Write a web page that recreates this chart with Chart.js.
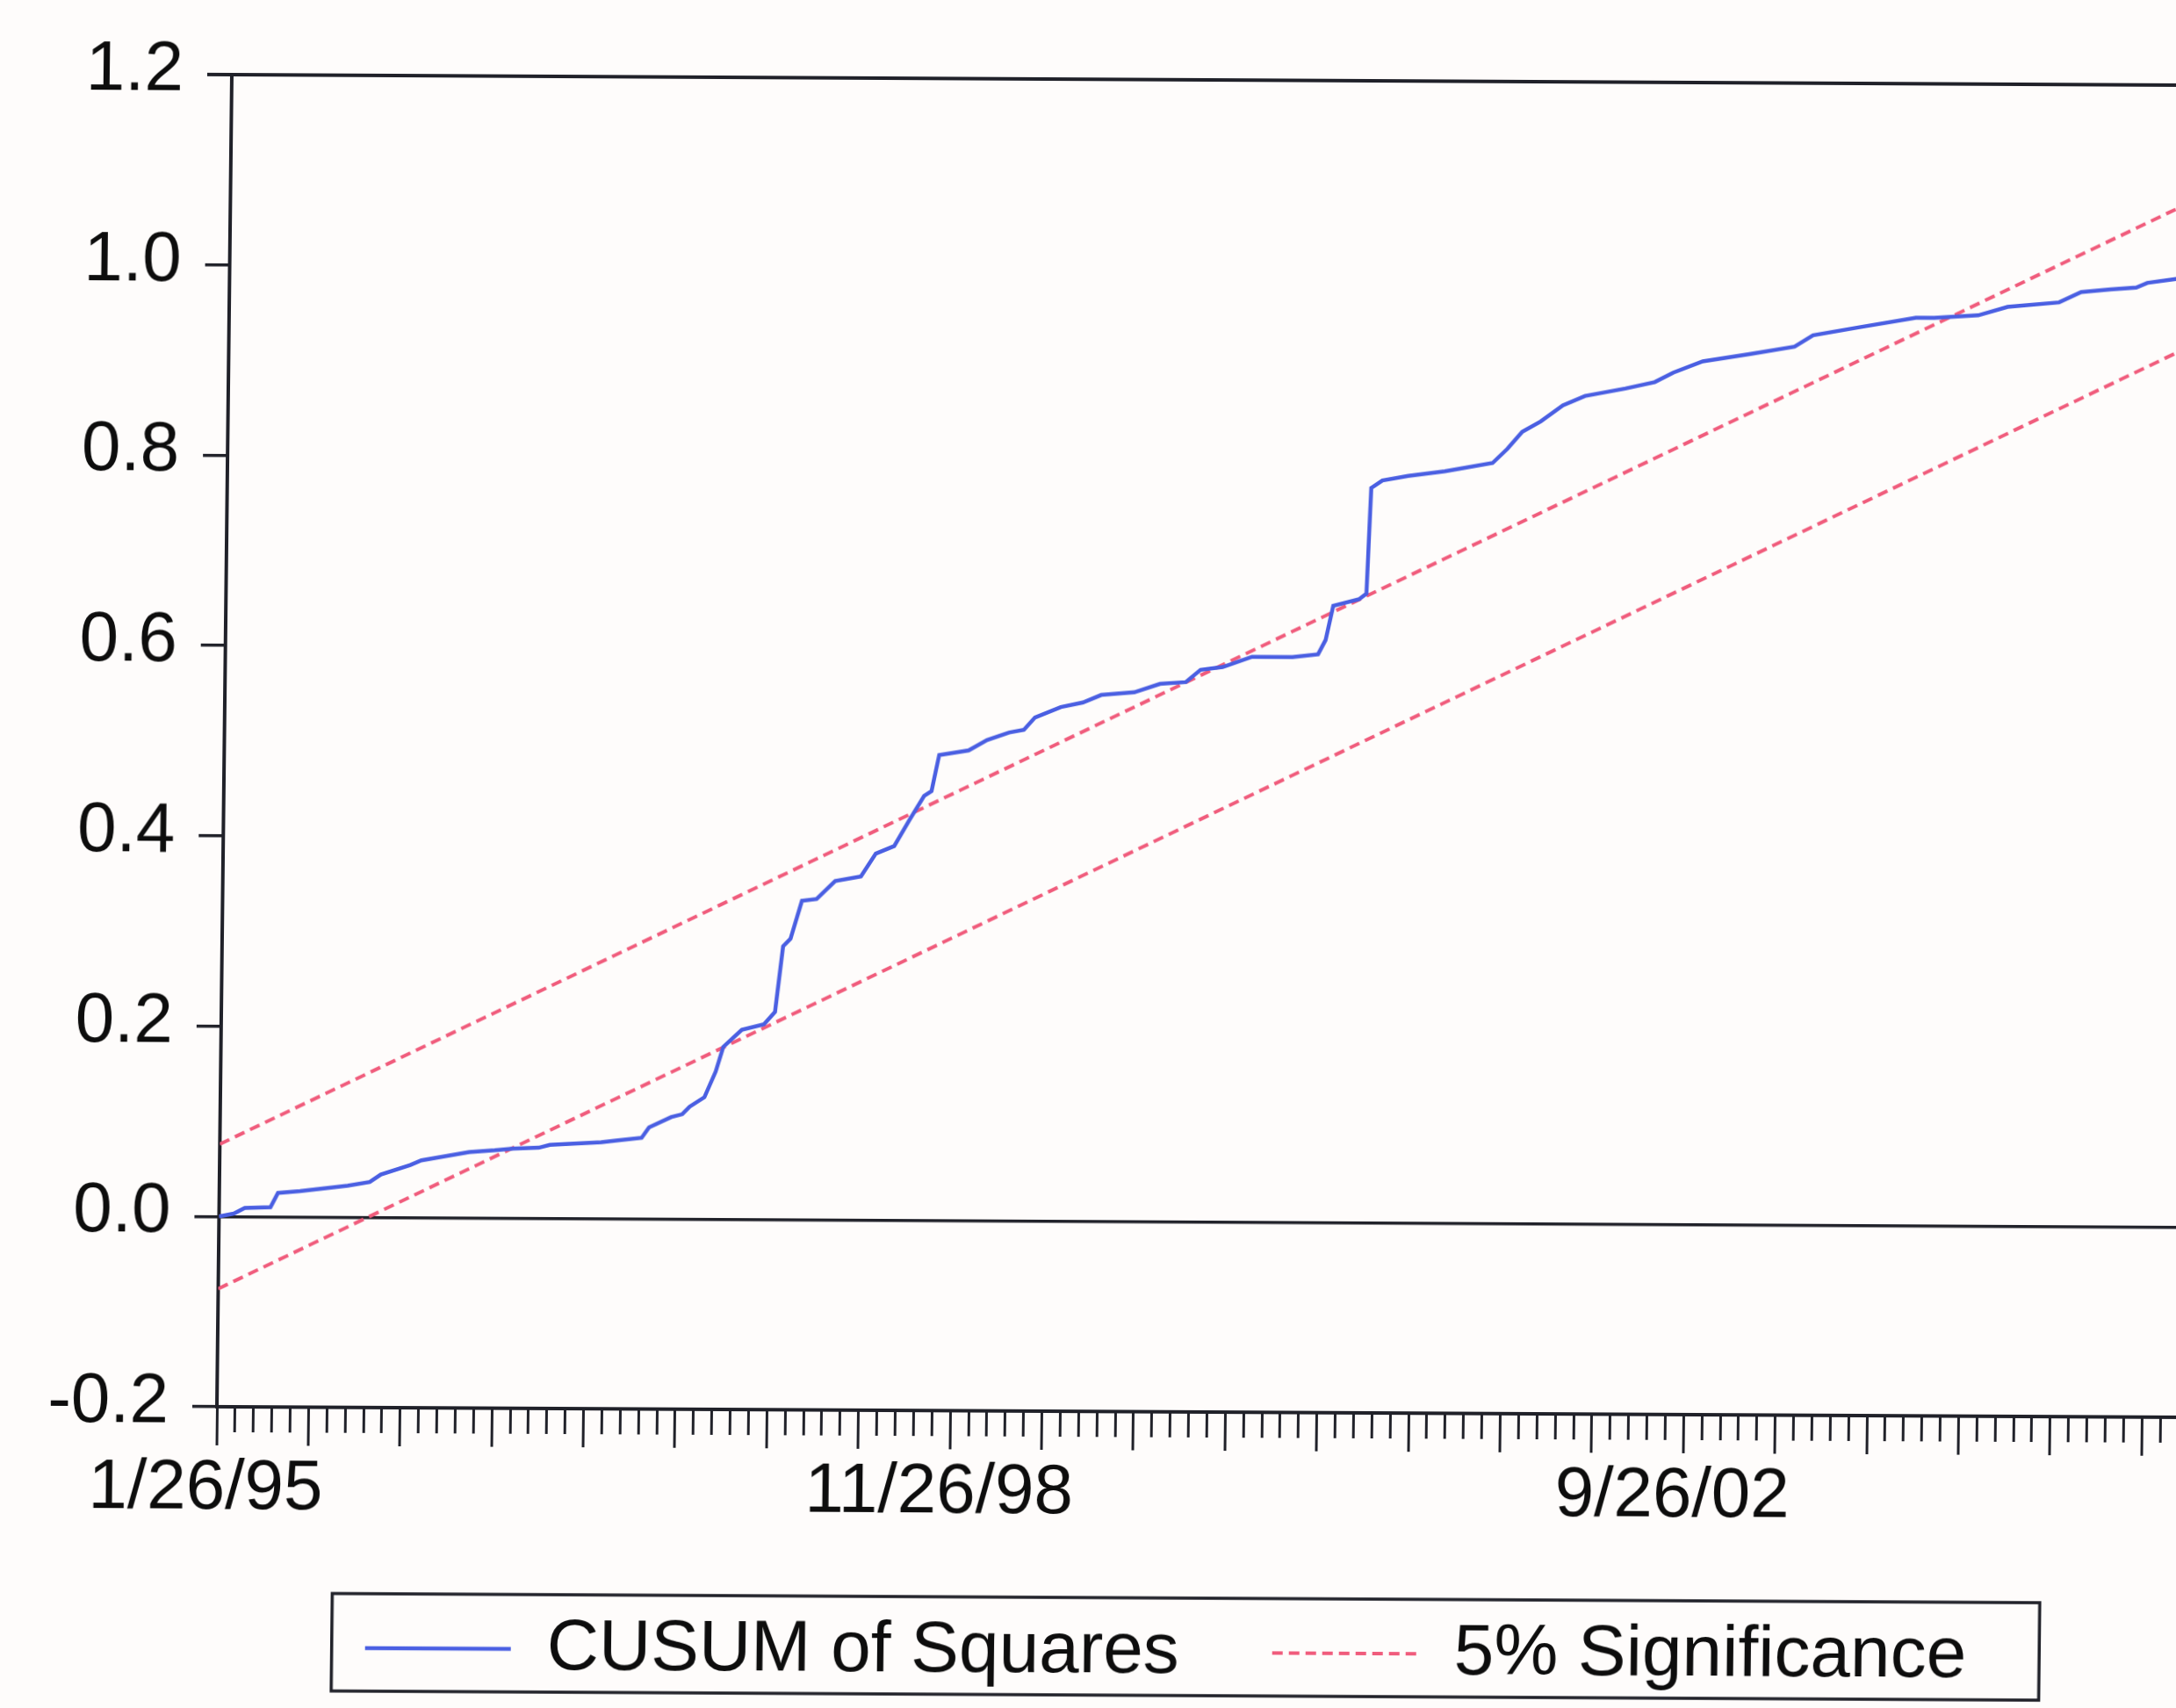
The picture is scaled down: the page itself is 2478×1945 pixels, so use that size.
<!DOCTYPE html>
<html>
<head>
<meta charset="utf-8">
<title>CUSUM of Squares</title>
<script src="https://cdn.jsdelivr.net/npm/chart.js@4.4.1/dist/chart.umd.min.js"></script>
<style>
  html, body { margin: 0; padding: 0; width: 2478px; height: 1945px; overflow: hidden; background: #fefcfb; }
  #frame {
    position: absolute; left: 0; top: 0; width: 2661px; height: 1945px;
    transform-origin: 247px 1602px;
    transform: matrix(1, 0.0054, -0.0112, 1, 0, 0);
  }
  canvas { display: block; }
</style>
</head>
<body>
<div id="frame"><canvas id="chart" width="2661" height="1945"></canvas></div>
<script>
// Weekly observations, numbered from the first week of the sample (1/26/95)
const axisMaxObs = 535;
const tickLabelObs = [0, 200, 400];
const tickLabelText = ['1/26/95', '11/26/98', '9/26/02'];
const yTickValues = [-0.2, 0.0, 0.2, 0.4, 0.6, 0.8, 1.0, 1.2];

// Recursive CUSUM of squares statistic
const cusumObs = [
  0, 4, 7, 14, 16, 22, 35, 41, 44, 52, 55, 68, 75, 80, 87, 90, 104, 108, 115, 117,
  123, 126, 128, 132, 135, 137, 142, 148, 151, 153, 155, 158, 162, 167, 174, 178, 183, 187, 191, 193,
  195, 203, 208, 214, 218, 221, 228, 234, 239, 248, 255, 262, 266, 272, 280, 291, 298, 300, 302, 309,
  311, 312, 315, 322, 332, 345, 349, 353, 358, 364, 370, 381, 389, 394, 402, 415, 427, 432, 445, 460,
  465, 477, 485, 499, 505, 513, 520, 523, 532, 534
];
const cusumSq = [
  0.000, 0.003, 0.009, 0.010, 0.025, 0.027, 0.033, 0.037, 0.045, 0.055, 0.060, 0.069, 0.071, 0.073, 0.074, 0.077, 0.080, 0.082, 0.085, 0.096,
  0.107, 0.110, 0.118, 0.128, 0.155, 0.181, 0.199, 0.205, 0.218, 0.287, 0.295, 0.335, 0.337, 0.356, 0.361, 0.385, 0.393, 0.420, 0.446, 0.451,
  0.489, 0.494, 0.505, 0.513, 0.516, 0.529, 0.540, 0.545, 0.553, 0.556, 0.565, 0.567, 0.580, 0.583, 0.594, 0.594, 0.597, 0.612, 0.648, 0.655,
  0.661, 0.772, 0.780, 0.785, 0.790, 0.799, 0.814, 0.832, 0.843, 0.860, 0.870, 0.878, 0.885, 0.895, 0.907, 0.915, 0.923, 0.935, 0.944, 0.954,
  0.954, 0.957, 0.966, 0.971, 0.982, 0.985, 0.987, 0.992, 0.997, 1.000
];

// 5% significance bounds (straight lines from first to last observation)
const bandObs = [0, 534];
const upperBand = [0.076, 1.076];
const lowerBand = [-0.076, 0.924];

const INK = '#202129';
const TEXT = '#0d0d0d';
const FONT = '"Liberation Sans", Arial, Helvetica, sans-serif';

const toPoints = (xs, ys) => xs.map((x, i) => ({ x: x, y: ys[i] }));

// Box drawn around the legend entries and a frame line along the top of the plot
const framePlugin = {
  id: 'framePlugin',
  afterDraw(chart) {
    const ctx = chart.ctx;
    const a = chart.chartArea;
    ctx.save();
    ctx.strokeStyle = INK;
    ctx.lineWidth = 4;
    ctx.beginPath();
    ctx.moveTo(a.left - 28, a.top);
    ctx.lineTo(a.right, a.top);
    ctx.stroke();

    const boxes = chart.legend.legendHitBoxes;
    if (boxes && boxes.length) {
      const first = boxes[0];
      const last = boxes[boxes.length - 1];
      const cy = first.top + first.height / 2;
      const left = first.left - 38;
      const right = last.left + last.width + 83;
      ctx.lineWidth = 3.5;
      ctx.strokeRect(left, cy - 62, right - left, 111);
    }
    ctx.restore();
  }
};

new Chart(document.getElementById('chart'), {
  type: 'line',
  data: {
    datasets: [
      {
        label: 'CUSUM of Squares',
        data: toPoints(cusumObs, cusumSq),
        borderColor: '#4a5fe2',
        borderWidth: 4.5,
        pointRadius: 0,
        tension: 0,
        fill: false
      },
      {
        label: '5% Significance',
        data: toPoints(bandObs, upperBand),
        borderColor: '#f05c7c',
        borderWidth: 4,
        borderDash: [12, 7],
        pointRadius: 0,
        fill: false
      },
      {
        label: '5% Significance (lower)',
        data: toPoints(bandObs, lowerBand),
        borderColor: '#f05c7c',
        borderWidth: 4,
        borderDash: [12, 7],
        pointRadius: 0,
        fill: false
      }
    ]
  },
  options: {
    responsive: false,
    animation: false,
    devicePixelRatio: 1,
    layout: { padding: { top: 85, left: 0, right: 0, bottom: 18 } },
    plugins: {
      tooltip: { enabled: false },
      legend: {
        display: true,
        position: 'bottom',
        align: 'center',
        labels: {
          usePointStyle: true,
          pointStyle: 'line',
          pointStyleWidth: 166,
          padding: 106,
          color: TEXT,
          font: { family: FONT, size: 82 },
          // one entry per series style, drawn with the dataset's own line width and dash
          generateLabels: (chart) => Chart.defaults.plugins.legend.labels.generateLabels(chart)
            .filter(item => item.datasetIndex !== 2)
            .map(item => {
              const ds = chart.data.datasets[item.datasetIndex];
              item.lineWidth = ds.borderWidth;
              item.lineDash = ds.borderDash || [];
              item.strokeStyle = ds.borderColor;
              item.fillStyle = ds.borderColor;
              item.pointStyle = 'line';
              return item;
            })
        }
      }
    },
    scales: {
      x: {
        type: 'linear',
        position: 'bottom',
        min: 0,
        max: axisMaxObs,
        afterBuildTicks: (scale) => {
          const ticks = [];
          for (let v = 0; v <= axisMaxObs; v += 5) ticks.push({ value: v });
          scale.ticks = ticks;
        },
        afterFit: (scale) => { scale.height = 127; },
        ticks: {
          autoSkip: false,
          maxRotation: 0,
          minRotation: 0,
          padding: 2,
          labelOffset: -12,
          color: TEXT,
          font: { family: FONT, size: 80 },
          callback: (value) => {
            const k = tickLabelObs.indexOf(value);
            return k >= 0 ? tickLabelText[k] : '';
          }
        },
        grid: {
          display: true,
          drawOnChartArea: false,
          drawTicks: true,
          tickLength: 44,
          tickWidth: 3,
          tickColor: INK,
          tickBorderDash: (ctx) => (ctx.tick && ctx.tick.value % 25 === 0) ? [] : [27, 200]
        },
        border: { display: true, color: INK, width: 4 }
      },
      y: {
        type: 'linear',
        position: 'left',
        min: -0.2,
        max: 1.2,
        afterBuildTicks: (scale) => { scale.ticks = yTickValues.map(v => ({ value: v })); },
        afterFit: (scale) => { scale.width = 247; },
        ticks: {
          padding: 27,
          labelOffset: -4,
          color: TEXT,
          font: { family: FONT, size: 80 },
          callback: (value) => Number(value).toFixed(1)
        },
        grid: {
          display: true,
          drawOnChartArea: true,
          drawTicks: true,
          tickLength: 28,
          tickWidth: 3.5,
          tickColor: INK,
          lineWidth: 3.5,
          color: (ctx) => (ctx.tick && Math.abs(ctx.tick.value) < 1e-9) ? INK : 'rgba(0,0,0,0)'
        },
        border: { display: true, color: INK, width: 4 }
      },
      yRight: {
        type: 'linear',
        position: 'right',
        min: -0.2,
        max: 1.2,
        afterFit: (scale) => { scale.width = 180; },
        ticks: { display: false },
        grid: { display: false, drawTicks: false },
        border: { display: true, color: INK, width: 4 }
      }
    }
  },
  plugins: [framePlugin]
});
</script>
</body>
</html>
